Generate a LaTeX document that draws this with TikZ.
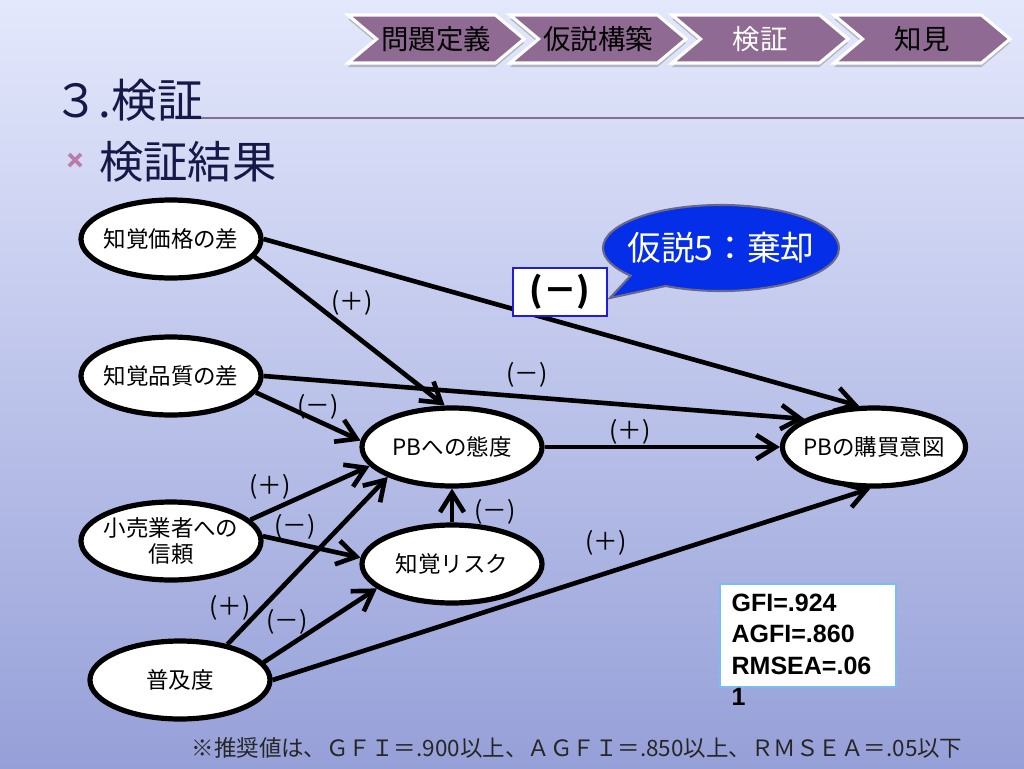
\documentclass[tikz,border=0pt]{standalone}
\usepackage{fontspec}
\setmainfont{Noto Sans CJK JP}
\newfontfamily\arialfont{Liberation Sans}
\usepackage{xcolor}
\usepackage{tikz}
\usetikzlibrary{shapes,arrows.meta,positioning,shadows}
\definecolor{navy}{RGB}{22,24,72}
\definecolor{crumb}{RGB}{143,106,146}
\definecolor{calloutblue}{RGB}{4,46,232}
\definecolor{calloutrim}{RGB}{105,105,135}
\definecolor{boxblue}{RGB}{30,30,215}
\definecolor{fitblue}{RGB}{120,190,240}
\definecolor{bgtop}{RGB}{228,232,252}
\definecolor{bgbottom}{RGB}{150,160,216}
\definecolor{rulecol}{RGB}{128,112,150}
\definecolor{bulletpink}{RGB}{186,124,168}
\newcommand{\PosSign}{(＋)}
\newcommand{\NegSign}{(－)}

\begin{document}
\begin{tikzpicture}[
			x=0.25mm,
			y=-0.25mm,
			var/.style={
				ellipse,
				draw,
				line width=3.7pt,
				fill=white,
				minimum width=45mm,
				minimum height=19.5mm,
				inner sep=0pt,
				inner xsep=-1.5mm,
				align=center,
				font=\fontsize{16pt}{19pt}\selectfont
			},
			sign/.style={
				inner sep=0pt,
				font=\fontsize{17.5pt}{20pt}\selectfont
			},
			effect/.style={-{Straight Barb[length=4.8mm,width=6mm]}, line width=3.3pt},
			crumbbox/.style={
				signal,
				signal from=west,
				signal to=east,
				signal pointer angle=80,
				fill=crumb,
				draw=white,
				line width=2.2pt,
				minimum width=44mm,
				minimum height=12mm,
				inner sep=0pt,
				font=\fontsize{19.5pt}{22pt}\selectfont,
				drop shadow={shadow xshift=0pt, shadow yshift=-1mm, opacity=0.45}
			},
			hypcallout/.style={
				ellipse callout,
				callout absolute pointer={(610,298)},
				callout pointer arc=22,
				fill=calloutblue,
				draw=calloutrim,
				line width=1.5pt,
				text=white,
				minimum width=59mm,
				minimum height=21.5mm,
				inner xsep=-8mm,
				font=\fontsize{24pt}{26pt}\selectfont
			},
			rejbox/.style={
				rectangle,
				draw=boxblue,
				line width=2pt,
				fill=white,
				minimum width=23.5mm,
				minimum height=12mm,
				inner sep=0pt,
				font=\bfseries\fontsize{24pt}{26pt}\selectfont
			},
			fitframe/.style={
				rectangle,
				draw=fitblue,
				line width=1pt,
				fill=white,
				minimum width=44mm,
				minimum height=25.75mm
			},
			fitvals/.style={
				align=left,
				inner sep=0pt,
				font=\arialfont\bfseries\fontsize{17.8pt}{22.4pt}\selectfont
			}
			]
			% Slide background
			\useasboundingbox (0,0) rectangle (1024,768);
			\shade[top color=bgtop, bottom color=bgbottom] (0,0) rectangle (1024,768);
			% Progress chevrons
			\node[crumbbox] (define) at (436,39) {問題定義};
			\node[crumbbox] (hypo) at (598,39) {仮説構築};
			\node[crumbbox, text=white] (verify) at (760,39) {検証};
			\node[crumbbox] (insight) at (922,39) {知見};
			% Heading
			\draw[rulecol, line width=1pt] (197,118) -- (1024,118);
			\node[anchor=west, inner sep=0pt, text=navy, font=\fontsize{32.5pt}{36pt}\selectfont] (title) at (53,100) {３.検証};
			\draw[bulletpink, line width=2.6pt] (69,154) -- (81,166) (69,166) -- (81,154);
			\node[anchor=west, inner sep=0pt, text=navy, font=\fontsize{31.5pt}{34pt}\selectfont] (subtitle) at (99,162) {検証結果};
			% Latent variables
			\node[var] (price) at (171,239) {知覚価格の差};
			\node[var] (quality) at (171,376) {知覚品質の差};
			\node[var] (trust) at (171,541) {小売業者への\\信頼};
			\node[var] (spread) at (180,680) {普及度};
			\node[var] (attitude) at (452,447) {PBへの態度};
			\node[var] (risk) at (452,564) {知覚リスク};
			\node[var] (intent) at (874,447) {PBの購買意図};
			% Paths
			\draw[effect] (price.east) -- (intent.110);
			\draw[effect] (price.-12) -- (attitude.100);
			\draw[effect] (quality.east) -- (intent.158);
			\draw[effect] (quality.-11) -- (attitude.176);
			\draw[effect] (attitude.east) -- (intent.west);
			\draw[effect] (trust.15) -- (attitude.193);
			\draw[effect] (trust.3) -- (risk.176);
			\draw[effect] (spread.37) -- (attitude.205);
			\draw[effect] (spread.12) -- (risk.198);
			\draw[effect] (spread.east) -- (intent.265);
			\draw[effect] (risk.north) -- (attitude.south);
			% Signs of the paths
			\node[sign] (s1) at (352,303) {\PosSign};
			\node[sign] (s2) at (527,375) {\NegSign};
			\node[sign] (s3) at (318,407) {\NegSign};
			\node[sign] (s4) at (630,432) {\PosSign};
			\node[sign] (s5) at (270,487) {\PosSign};
			\node[sign] (s6) at (295,527) {\NegSign};
			\node[sign] (s7) at (230,608) {\PosSign};
			\node[sign] (s8) at (287,622) {\NegSign};
			\node[sign] (s9) at (606,543) {\PosSign};
			\node[sign] (s10) at (495,512) {\NegSign};
			% Rejected hypothesis
			\node[hypcallout] (verdict) at (721,248) {仮説5：棄却};
			\node[rejbox] (reject) at (560,292) {\NegSign};
			% Fit indices
			\node[fitframe] (fitbox) at (808,635.5) {};
			\node[fitvals, below right=2.6mm and 3mm of fitbox.north west] (fitvalues) {GFI=.924\\AGFI=.860\\RMSEA=.06\\1};
			\node[font=\fontsize{16pt}{18pt}\selectfont, text=black!85] (advice) at (577,748) {※推奨値は、ＧＦＩ＝.900以上、ＡＧＦＩ＝.850以上、ＲＭＳＥＡ＝.05以下};
		\end{tikzpicture}
\end{document}
